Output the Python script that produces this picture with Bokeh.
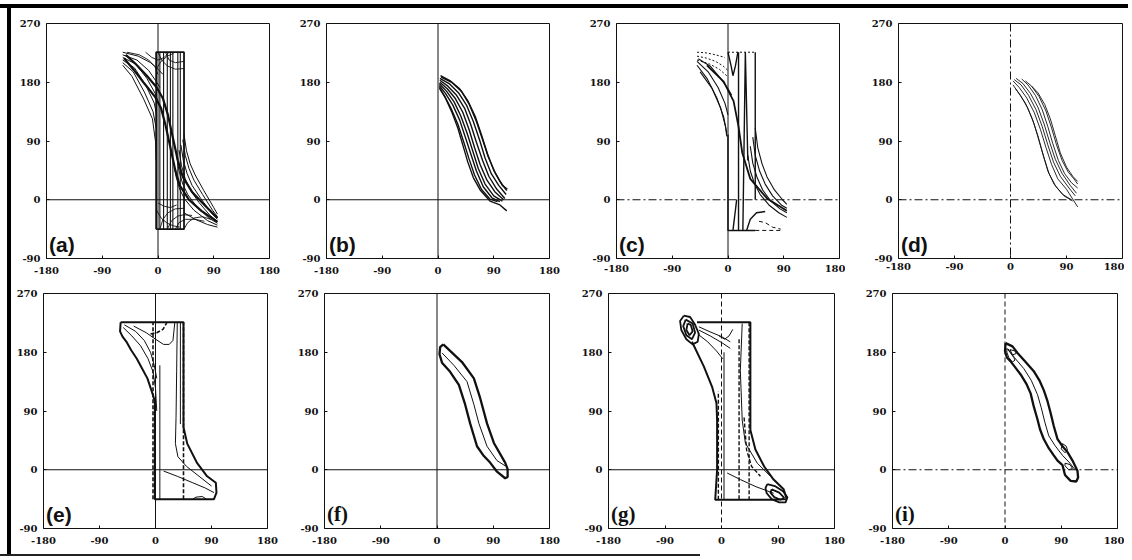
from bokeh.plotting import figure
from bokeh.layouts import row, column
from bokeh.models import Range1d, Span, Label, FixedTicker, Div, Spacer
from bokeh.embed import file_html
from bokeh.resources import INLINE

# ---------------- axes / labels ----------------
XTICKS = [-180, -90, 0, 90, 180]
XTICK_LABELS = ["-180", "-90", "0", "90", "180"]
YTICKS = [-90, 0, 90, 180, 270]
YTICK_LABELS = ["-90", "0", "90", "180", "270"]
PANEL_NAMES = ["(a)", "(b)", "(c)", "(d)", "(e)", "(f)", "(g)", "(i)"]

# ---------------- panel (a) ----------------
A_BOX_X = [-3, -3, 42, 42, -3]
A_BOX_Y = [-45, 226, 226, -45, -45]
A_VERT_X = [3, 9, 15, 20, 24, 32, 36]
A_VERT_Y = [-45, 226]
A_UL_X = [[-57, -42, -23, -9, -4, -3],
          [-57, -40, -22, -8, -3],
          [-57, -38, -20, -6, -2],
          [-57, -36, -18, -4, 0],
          [-57, -34, -15, -2, 3],
          [-57, -32, -12, 0, 8]]
A_UL_Y = [[206, 189, 154, 124, 89, 60],
          [210, 196, 165, 135, 110],
          [214, 202, 176, 148, 128],
          [218, 208, 186, 162, 150],
          [222, 214, 198, 180, 172],
          [226, 220, 210, 200, 192]]
A_S_X = [[-55, -40, -22, -5, 5, 12, 20, 28, 35, 50, 70, 96],
         [-52, -36, -18, -2, 8, 16, 24, 32, 40, 55, 75, 96]]
A_S_Y = [[217, 200, 178, 158, 140, 115, 80, 45, 22, 0, -17, -34],
         [222, 208, 190, 172, 155, 130, 95, 60, 35, 12, -8, -28]]
A_LR_X = [[42, 46, 52, 60, 74, 90, 96],
          [40, 44, 50, 58, 72, 88, 96],
          [37, 41, 47, 55, 69, 86, 96],
          [34, 38, 44, 52, 66, 84, 96],
          [30, 34, 40, 48, 62, 82, 96],
          [25, 29, 35, 43, 58, 80, 96],
          [42, 60, 80, 96]]
A_LR_Y = [[100, 75, 55, 38, 14, -12, -22],
          [92, 68, 48, 30, 8, -16, -26],
          [84, 60, 40, 22, 2, -20, -30],
          [76, 52, 32, 15, -4, -24, -33],
          [68, 44, 24, 8, -10, -28, -36],
          [58, 36, 16, 1, -16, -32, -39],
          [-20, -30, -38, -42]]
A_ARC_X = [[-50, -30, -15, -5, 0],
           [-3, 5, 15, 25],
           [0, 6, 15, 28, 42],
           [12, 18, 28, 42],
           [-20, -10, 0, 10, 18],
           [-3, 5, 15, 25, 35],
           [3, 8, 16, 28, 42],
           [15, 22, 32, 42, 55],
           [28, 34, 44, 60, 75],
           [42, 48, 58, 72, 85],
           [0, 10, 20, 30]]
A_ARC_Y = [[226, 222, 214, 204, 192],
           [200, 212, 220, 224],
           [226, 214, 205, 200, 201],
           [226, 214, 210, 212],
           [226, 218, 214, 218, 226],
           [-15, -28, -36, -40, -42],
           [-45, -30, -20, -14, -13],
           [-45, -32, -25, -23, -24],
           [-45, -35, -30, -30, -33],
           [-45, -35, -28, -26, -30],
           [-5, -10, -12, -8]]

# ---------------- panel (b) ----------------
B_X = [[4, 20, 35, 48, 60, 70, 80, 90, 100, 111],
       [3, 18, 33, 46, 57, 67, 76, 86, 98, 110],
       [3, 16, 30, 43, 53, 62, 72, 82, 95, 108],
       [3, 15, 28, 40, 50, 59, 68, 79, 92, 106],
       [2, 14, 26, 37, 47, 56, 65, 76, 90, 104],
       [2, 12, 24, 35, 44, 53, 62, 73, 87, 100],
       [2, 10, 21, 32, 41, 50, 59, 70, 84, 96],
       [3, 12, 22, 32, 40, 48, 57, 68, 84, 100, 111],
       [5, 22, 38, 50, 62, 72, 81, 92, 104, 112]]
B_Y = [[190, 182, 170, 152, 128, 100, 70, 45, 28, 14],
       [186, 178, 164, 145, 120, 92, 64, 40, 22, 8],
       [183, 174, 160, 140, 115, 88, 60, 36, 16, 2],
       [180, 170, 155, 134, 108, 80, 54, 30, 12, 0],
       [178, 166, 150, 128, 102, 75, 48, 24, 6, -2],
       [175, 163, 145, 122, 96, 70, 44, 20, 3, -3],
       [172, 160, 140, 116, 90, 63, 38, 16, 1, -3],
       [170, 156, 135, 110, 84, 58, 34, 15, -2, -8, -17],
       [188, 180, 166, 147, 120, 92, 66, 42, 22, 16]]

# ---------------- panel (c) ----------------
C_UL_X = [[-50, -34, -18, -7, -2],
          [-45, -26, -12, -4, -2],
          [-50, -32, -16, -5, 0],
          [-48, -28, -12, 0, 6]]
C_UL_Y = [[206, 186, 156, 127, 102],
          [196, 171, 141, 112, 97],
          [212, 196, 172, 148, 130],
          [216, 204, 186, 170, 160]]
C_DOT_X = [[-50, -35, -20, -5],
           [-50, -35, -20, -8, 0],
           [-50, -30, -14, -2],
           [0, 44]]
C_DOT_Y = [[226, 225, 222, 218],
           [220, 217, 212, 205, 198],
           [214, 208, 200, 190],
           [226, 226]]
C_S_X = [[-34, -7, 9, 17, 23, 36, 63, 95]]
C_S_Y = [[206, 181, 151, 112, 72, 32, 2, -17]]
C_LR_X = [[44, 48, 55, 63, 75, 88, 95],
          [40, 44, 51, 60, 72, 86, 95],
          [36, 40, 47, 56, 69, 84, 95],
          [32, 36, 43, 52, 66, 82, 95]]
C_LR_Y = [[110, 80, 55, 35, 15, 0, -7],
          [96, 68, 44, 24, 6, -8, -13],
          [82, 56, 34, 15, -2, -14, -20],
          [68, 44, 24, 8, -8, -20, -27]]
C_LINE_X = [[0, 0, 44],
            [17, 17],
            [24, 28, 32],
            [44, 44],
            [0, 5, 8, 12, 16],
            [8, 14],
            [30, 36, 46, 60]]
C_LINE_Y = [[100, -47, -47],
            [-47, 226],
            [-47, 226, 60],
            [0, 226],
            [226, 205, 190, 205, 226],
            [-47, 0],
            [-47, -30, -20, -18]]
C_DASH_X = [[50, 60, 72, 85], [44, 85]]
C_DASH_Y = [[-33, -35, -42, -45], [-47, -47]]

# ---------------- panel (d) ----------------
D_X = [[4, 14, 26, 38, 48, 57, 66, 76, 90, 108],
       [6, 17, 29, 41, 51, 60, 69, 80, 94, 104],
       [9, 20, 32, 44, 54, 63, 72, 83, 96, 106],
       [18, 28, 40, 51, 60, 68, 77, 87, 98, 108],
       [24, 34, 46, 57, 66, 74, 83, 93, 102, 108],
       [4, 12, 24, 35, 44, 52, 60, 70, 84, 98],
       [8, 16, 28, 38, 46, 54, 62, 73, 86, 100],
       [34, 44, 55, 64, 72, 80, 90, 100, 108]]
D_Y = [[182, 172, 156, 134, 108, 80, 54, 32, 16, -11],
       [184, 176, 160, 138, 112, 84, 58, 36, 18, 6],
       [186, 178, 163, 142, 116, 88, 62, 40, 22, 10],
       [185, 176, 160, 138, 112, 86, 60, 40, 26, 18],
       [182, 174, 158, 136, 110, 84, 60, 42, 32, 24],
       [176, 165, 148, 124, 98, 70, 44, 24, 8, 0],
       [170, 160, 140, 116, 90, 64, 40, 20, 6, -2],
       [174, 164, 146, 124, 98, 72, 50, 36, 28]]

# ---------------- panel (e) ----------------
E_OUT_X = [-56, 45, 45, 51, 67, 83, 97, 98, 94, 3, -1, -1, -6, -13, -22, -30, -39, -46, -53, -57, -56]
E_OUT_Y = [226, 226, 65, 40, 10, -10, -20, -35, -45, -45, -45, 105, 120, 140, 156, 170, 183, 195, 204, 212, 226]
E_IN_X = [[-52, -38, -24, -12, -4, 0, 2],
          [-50, -32, -18, -8, -2, 2],
          [-35, -15, 0, 13, 22, 28, 31],
          [35, 34, 33, 32, 36, 50, 70, 90],
          [13, 35, 60, 80, 94],
          [60, 65, 75, 82],
          [7, 7],
          [40, 40]]
E_IN_Y = [[218, 205, 190, 170, 150, 125, 90],
          [222, 212, 198, 180, 160, 140],
          [220, 210, 200, 192, 192, 198, 225],
          [226, 150, 80, 40, 20, 5, -10, -25],
          [-2, -10, -20, -28, -35],
          [-45, -42, -41, -45],
          [-45, 160],
          [226, 70]]
E_DASH_X = [[-4, -4], [45, 45], [-8, 2, 12, 18]]
E_DASH_Y = [[-45, 226], [-45, 226], [208, 210, 215, 225]]

# ---------------- panel (f) ----------------
F_OUT_X = [10, 21, 40, 59, 69, 80, 91, 109, 113, 113, 109, 96, 85, 75, 64, 53, 45, 35, 21, 8, 4, 5, 10]
F_OUT_Y = [192, 182, 165, 140, 110, 71, 41, 11, 1, -11, -13, -3, 11, 21, 36, 71, 100, 130, 150, 164, 177, 188, 192]
F_IN_X = [8, 27, 48, 59, 67, 80, 96, 109]
F_IN_Y = [179, 160, 135, 100, 71, 36, 14, 6]

# ---------------- panel (g) ----------------
G_LOOP_X = [[-60, -66, -64, -56, -46, -38, -36, -42, -50, -60],
            [-57, -61, -56, -47, -42, -46, -57],
            [-54, -56, -51, -46, -49, -54],
            [73, 85, 98, 105, 102, 92, 80, 72, 70, 73],
            [80, 92, 100, 94, 84, 78, 80]]
G_LOOP_Y = [[236, 228, 214, 200, 192, 196, 208, 222, 234, 236],
            [230, 220, 206, 200, 210, 224, 230],
            [224, 214, 206, 212, 222, 224],
            [-22, -25, -33, -42, -50, -50, -45, -36, -28, -22],
            [-30, -35, -43, -46, -42, -35, -30]]
G_OUT_X = [-39, 46, 46, 54, 68, 83, 99, 104, 83, -10, -7, -7, -8, -15, -28, -47]
G_OUT_Y = [226, 226, 61, 31, 5, -15, -30, -45, -46, -46, 0, 76, 102, 127, 158, 196]
G_IN_X = [[-36, -20, 0, 14],
          [-36, -18, 0, 14],
          [-38, -22, -8, 2],
          [-4, 5, 12, 18],
          [33, 30, 33, 38, 57, 78],
          [9, 30, 55, 83],
          [4, 4]]
G_IN_Y = [[219, 212, 204, 196],
          [214, 205, 195, 186],
          [208, 196, 182, 170],
          [205, 200, 205, 215],
          [224, 152, 76, 41, 10, -10],
          [-5, -15, -26, -36],
          [-46, 180]]
G_DASH_X = [[-5, -5], [28, 28], [44, 44], [36, 40, 48, 62]]
G_DASH_Y = [[-46, 120], [200, -46], [226, -46], [80, 30, 5, -10]]

# ---------------- panel (i) ----------------
I_OUT_X = [1, 12, 20, 33, 46, 55, 62, 68, 73, 78, 84, 92, 100, 108, 116, 117, 114, 105, 96, 92,
           84, 78, 70, 62, 56, 52, 46, 41, 34, 25, 17, 9, 3, 0, 1]
I_OUT_Y = [194, 189, 179, 165, 151, 137, 122, 105, 87, 67, 47, 36, 27, 14, -2, -12, -18, -17, -8, 7,
           14, 22, 33, 47, 62, 77, 97, 117, 132, 146, 156, 166, 172, 182, 194]
I_IN_X = [[5, 15, 30, 42, 52, 58, 64, 70, 80, 92, 104, 112],
          [3, 8, 14, 16, 12, 6, 3, 3],
          [8, 16, 18, 12, 8],
          [92, 98, 100, 96, 90, 92],
          [96, 104, 108, 102, 96, 96]]
I_IN_Y = [[185, 172, 155, 137, 115, 95, 72, 52, 37, 22, 10, 0],
          [186, 180, 172, 168, 165, 172, 180, 186],
          [184, 182, 178, 176, 184],
          [40, 36, 30, 26, 32, 40],
          [10, 8, 2, 0, 6, 10]]

INK = "#111111"
DASHDOT = "8 3 2 3"


def make_panel(idx, w, h, bl, br, bt, bb, label_font, vdash="solid", hdash="solid", xstand=8):
    p = figure(width=w, height=h, x_range=Range1d(-180, 180), y_range=Range1d(-90, 270),
               output_backend="svg", toolbar_location=None,
               min_border_left=bl, min_border_right=br, min_border_top=bt, min_border_bottom=bb)
    p.grid.visible = False
    p.outline_line_color = INK
    p.outline_line_width = 1
    p.background_fill_color = "white"
    p.border_fill_color = "white"
    for ax, ticks, labels in ((p.xaxis, XTICKS, XTICK_LABELS), (p.yaxis, YTICKS, YTICK_LABELS)):
        ax.ticker = FixedTicker(ticks=ticks)
        ax.major_label_overrides = {t: l for t, l in zip(ticks, labels)}
        ax.axis_line_color = None
        ax.major_tick_in = 3
        ax.major_tick_out = 0
        ax.major_tick_line_color = INK
        ax.minor_tick_line_color = None
        ax.major_label_text_font = "DejaVu Serif"
        ax.major_label_text_font_style = "bold"
        ax.major_label_text_font_size = "10px"
        ax.major_label_text_color = INK
    p.xaxis.major_label_standoff = xstand
    p.yaxis.major_label_standoff = 6
    p.add_layout(Span(location=0, dimension="height", line_color=INK, line_width=1, line_dash=vdash))
    p.add_layout(Span(location=0, dimension="width", line_color=INK, line_width=1, line_dash=hdash))
    p.add_layout(Label(x=-176, y=-86, text=PANEL_NAMES[idx], text_font=label_font,
                       text_font_style="bold", text_font_size="21px", text_color=INK,
                       text_baseline="bottom", text_align="left"))
    return p


def ml(p, xs, ys, width=1.0, dash="solid"):
    p.multi_line(xs=xs, ys=ys, line_color=INK, line_width=width, line_dash=dash)


SANS = "Liberation Sans"
SERIF = "Liberation Serif"

# (a)
pa = make_panel(0, 278, 272, 35, 20, 10, 22, SANS)
ml(pa, [A_BOX_X], [A_BOX_Y], 1.8)
ml(pa, [[x, x] for x in A_VERT_X], [A_VERT_Y for _ in A_VERT_X], 1.1)
ml(pa, A_UL_X, A_UL_Y, 1.0)
ml(pa, A_S_X, A_S_Y, 2.2)
ml(pa, A_LR_X, A_LR_Y, 1.0)
ml(pa, A_ARC_X, A_ARC_Y, 0.9)

# (b)
pb = make_panel(1, 278, 272, 37, 18, 10, 22, SANS)
ml(pb, B_X, B_Y, 1.4)

# (c)
pc = make_panel(2, 278, 272, 49, 6, 12, 18, SANS, hdash=DASHDOT, xstand=6)
ml(pc, C_UL_X, C_UL_Y, 1.1)
ml(pc, C_DOT_X, C_DOT_Y, 1.0, "2 2")
ml(pc, C_S_X, C_S_Y, 1.8)
ml(pc, C_LR_X, C_LR_Y, 1.1)
ml(pc, C_LINE_X, C_LINE_Y, 1.4)
ml(pc, C_DASH_X, C_DASH_Y, 1.0, "4 3")

# (d)
pd = make_panel(3, 279, 272, 53, 2, 15, 16, SANS, vdash=DASHDOT, hdash=DASHDOT, xstand=4)
ml(pd, D_X, D_Y, 0.9)

# (e)
pe = make_panel(4, 278, 272, 32, 22, 9, 23, SANS)
ml(pe, [E_OUT_X], [E_OUT_Y], 2.0)
ml(pe, E_IN_X, E_IN_Y, 1.0)
ml(pe, E_DASH_X, E_DASH_Y, 1.6, "4 2")

# (f)
pf = make_panel(5, 278, 272, 35, 18, 9, 20, SERIF)
ml(pf, [F_OUT_X], [F_OUT_Y], 2.3)
ml(pf, [F_IN_X], [F_IN_Y], 1.0)

# (g)
pg = make_panel(6, 278, 272, 41, 11, 12, 24, SERIF, vdash="5 3")
ml(pg, G_LOOP_X, G_LOOP_Y, 1.8)
ml(pg, [G_OUT_X], [G_OUT_Y], 2.0)
ml(pg, G_IN_X, G_IN_Y, 1.0)
ml(pg, G_DASH_X, G_DASH_Y, 1.4, "4 2")

# (i)
pi = make_panel(7, 279, 272, 47, 7, 13, 17, SERIF, vdash="5 3", hdash=DASHDOT)
ml(pi, [I_OUT_X], [I_OUT_Y], 2.3)
ml(pi, I_IN_X, I_IN_Y, 1.0)

grid = column(row(pa, pb, pc, pd), row(pe, pf, pg, pi))
top_bar = Div(text="", width=1128, height=4, margin=0, styles={"background-color": "black"})
left_bar = Div(text="", width=4, height=546, margin=0, styles={"background-color": "black"})
bottom_bar = Div(text="", width=700, height=2, margin=0, styles={"background-color": "#222222"})
layout = column(Spacer(height=4, margin=0), top_bar,
                row(Spacer(width=7, margin=0), left_bar, grid),
                bottom_bar)

open("out.html", "w").write(file_html(layout, INLINE))
